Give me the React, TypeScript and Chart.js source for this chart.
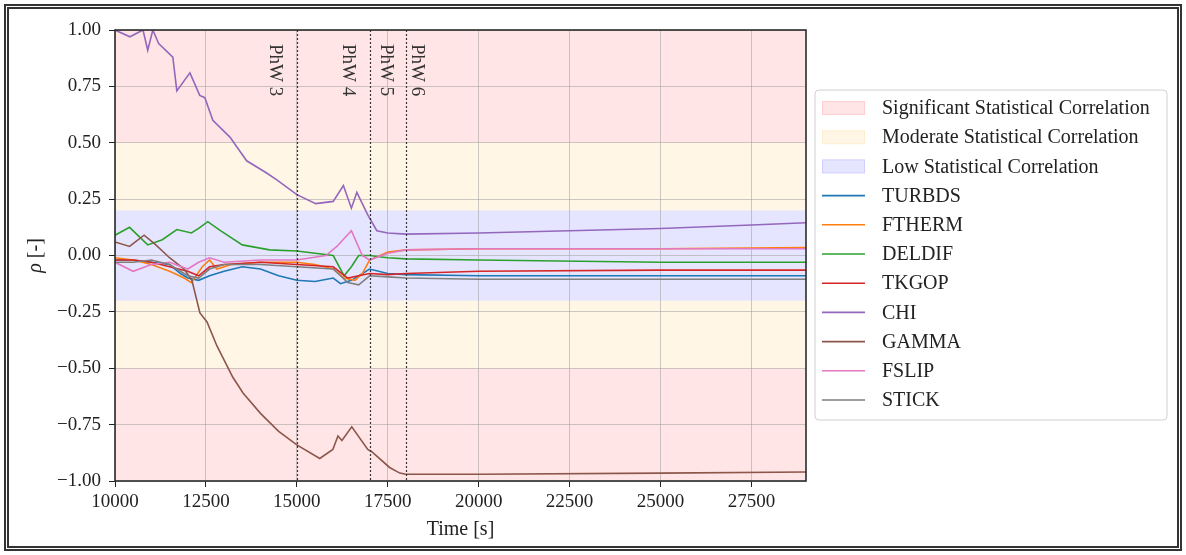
import React, { useEffect, useRef } from "react";
import { Chart, registerables } from "chart.js";

Chart.register(...registerables);

// ---------- data ----------
const X_MIN = 10000;
const X_MAX = 29000;
const xTickValues = [10000, 12500, 15000, 17500, 20000, 22500, 25000, 27500];
const yTickValues = [-1, -0.75, -0.5, -0.25, 0, 0.25, 0.5, 0.75, 1];

const bandLabels = [
  "Significant Statistical Correlation",
  "Moderate Statistical Correlation",
  "Low Statistical Correlation",
];
// [from, to] ranges per band category
const significantRanges = [[0.5, 1], [-1, -0.5]];
const moderateRanges = [[0.2, 0.5], [-0.5, -0.2]];
const lowRanges = [[-0.2, 0.2]];

const phwLineTimes = [15000, 17000, 18000];
const phwLabels = ["PhW 3", "PhW 4", "PhW 5", "PhW 6"];
const phwLabelTimes = [14400, 16400, 17450, 18300];

const seriesNames = ["TURBDS", "FTHERM", "DELDIF", "TKGOP", "CHI", "GAMMA", "FSLIP", "STICK"];

const tTurbds = [10000, 10500, 11000, 11500, 11800, 12000, 12300, 12600, 13000, 13500, 14000, 14500, 15000, 15500, 16000, 16200, 16500, 17000, 17500, 18000, 20000, 25000, 29000];
const rhoTurbds = [-0.02, -0.02, -0.03, -0.04, -0.08, -0.1, -0.11, -0.09, -0.07, -0.05, -0.06, -0.09, -0.11, -0.115, -0.1, -0.125, -0.11, -0.06, -0.08, -0.085, -0.09, -0.09, -0.09];

const tFtherm = [10000, 10500, 11000, 11500, 11900, 12100, 12400, 12600, 12800, 13200, 14000, 15000, 15500, 16000, 16300, 16600, 16800, 17000, 17500, 18000, 20000, 25000, 29000];
const rhoFtherm = [-0.01, -0.02, -0.04, -0.07, -0.1, -0.12, -0.05, -0.02, -0.06, -0.04, -0.03, -0.03, -0.04, -0.06, -0.1, -0.11, -0.08, -0.02, 0.015, 0.025, 0.03, 0.03, 0.035];

const tDeldif = [10000, 10400, 10900, 11300, 11700, 12100, 12300, 12550, 12900, 13500, 14250, 15000, 16000, 16300, 16500, 16700, 17000, 17500, 18000, 20000, 25000, 29000];
const rhoDeldif = [0.09, 0.125, 0.047, 0.07, 0.115, 0.1, 0.12, 0.15, 0.11, 0.047, 0.025, 0.02, 0.0, -0.09, -0.05, 0.0, 0.0, -0.01, -0.015, -0.02, -0.03, -0.03];

const tTkgop = [10000, 10500, 11000, 11500, 12000, 12300, 12600, 13000, 14000, 15000, 16000, 16400, 16700, 17000, 17500, 18000, 20000, 25000, 29000];
const rhoTkgop = [-0.02, -0.02, -0.03, -0.05, -0.07, -0.09, -0.05, -0.04, -0.03, -0.04, -0.05, -0.1, -0.09, -0.08, -0.085, -0.08, -0.07, -0.065, -0.065];

const tChi = [10000, 10410, 10770, 10900, 11040, 11200, 11590, 11700, 12060, 12330, 12470, 12690, 13160, 13620, 14170, 14450, 15000, 15520, 16000, 16280, 16500, 16650, 16950, 17200, 17500, 18000, 20000, 22500, 25000, 27500, 29000];
const rhoChi = [1.0, 0.97, 1.0, 0.91, 1.0, 0.94, 0.88, 0.73, 0.81, 0.71, 0.7, 0.6, 0.525, 0.42, 0.366, 0.335, 0.27, 0.23, 0.24, 0.31, 0.21, 0.28, 0.18, 0.11, 0.1, 0.095, 0.1, 0.11, 0.12, 0.135, 0.145];

const tGamma = [10000, 10400, 10800, 11100, 11500, 11900, 12115, 12335, 12530, 12800, 13240, 13520, 14000, 14500, 15000, 15630, 15990, 16130, 16240, 16510, 16950, 17060, 17550, 17830, 18000, 20000, 25000, 29000];
const rhoGamma = [0.06, 0.04, 0.09, 0.05, -0.01, -0.06, -0.11, -0.255, -0.295, -0.4, -0.54, -0.61, -0.7, -0.78, -0.84, -0.9, -0.86, -0.8, -0.82, -0.76, -0.86, -0.87, -0.94, -0.965, -0.97, -0.97, -0.965, -0.96];

const tFslip = [10000, 10500, 11000, 11500, 12000, 12300, 12600, 13000, 14000, 15000, 15800, 16100, 16500, 16800, 17000, 17500, 18000, 20000, 25000, 29000];
const rhoFslip = [-0.03, -0.07, -0.04, -0.03, -0.06, -0.03, -0.01, -0.03, -0.02, -0.02, 0.0, 0.04, 0.11, 0.0, -0.02, 0.01, 0.025, 0.03, 0.03, 0.03];

const tStick = [10000, 10500, 11000, 11500, 12000, 12300, 12600, 13000, 14000, 15000, 16000, 16400, 16700, 17000, 17500, 18000, 20000, 25000, 29000];
const rhoStick = [-0.03, -0.03, -0.02, -0.04, -0.09, -0.1, -0.06, -0.04, -0.04, -0.05, -0.06, -0.12, -0.13, -0.09, -0.095, -0.1, -0.105, -0.105, -0.105];

const seriesTimes = [tTurbds, tFtherm, tDeldif, tTkgop, tChi, tGamma, tFslip, tStick];
const seriesValues = [rhoTurbds, rhoFtherm, rhoDeldif, rhoTkgop, rhoChi, rhoGamma, rhoFslip, rhoStick];

// ---------- styles ----------
const W = 1186;
const H = 555;
const FONT = "'Liberation Serif', 'Times New Roman', serif";
const TEXT = "#222";
const seriesColors = ["#1f77b4", "#ff7f0e", "#2ca02c", "#d62728", "#9467bd", "#8c564b", "#e377c2", "#7f7f7f"];
const bandFill = ["rgba(255,0,0,0.1)", "rgba(255,165,0,0.1)", "rgba(0,0,255,0.1)"];
const bandRanges = [significantRanges, moderateRanges, lowRanges];

const fmtY = (v: number) => {
  const s = Math.abs(v).toFixed(2);
  return v < 0 ? "\u2212" + s : s;
};

const decorPlugin = {
  id: "decor",
  beforeDraw(chart: any) {
    const { ctx, chartArea: a, scales } = chart;
    const y = scales.y;
    ctx.save();
    bandRanges.forEach((ranges, bi) => {
      ranges.forEach(([from, to]) => {
        const y1 = y.getPixelForValue(to);
        const y2 = y.getPixelForValue(from);
        ctx.fillStyle = bandFill[bi];
        ctx.fillRect(a.left, y1, a.right - a.left, y2 - y1);
      });
    });
    ctx.restore();
  },
  afterDatasetsDraw(chart: any) {
    const { ctx, chartArea: a, scales } = chart;
    const x = scales.x;
    ctx.save();
    // vertical dotted lines
    ctx.strokeStyle = "#333";
    ctx.lineWidth = 1.2;
    ctx.setLineDash([2, 2]);
    phwLineTimes.forEach((t) => {
      const px = Math.round(x.getPixelForValue(t)) + 0.5;
      ctx.beginPath();
      ctx.moveTo(px, a.top);
      ctx.lineTo(px, a.bottom);
      ctx.stroke();
    });
    ctx.setLineDash([]);
    // labels
    ctx.fillStyle = "#333";
    ctx.font = `19px ${FONT}`;
    ctx.textAlign = "left";
    ctx.textBaseline = "middle";
    phwLabels.forEach((lab, i) => {
      const px = x.getPixelForValue(phwLabelTimes[i]);
      ctx.save();
      ctx.translate(px, a.top + 14);
      ctx.rotate(Math.PI / 2);
      ctx.fillText(lab, 0, 0);
      ctx.restore();
    });
    // frame
    ctx.strokeStyle = "#2b2b2b";
    ctx.lineWidth = 1.6;
    ctx.strokeRect(a.left, a.top, a.right - a.left, a.bottom - a.top);
    ctx.restore();
  },
  afterDraw(chart: any) {
    const { ctx, chartArea: a } = chart;
    ctx.save();
    ctx.fillStyle = TEXT;
    // x title
    ctx.font = `20px ${FONT}`;
    ctx.textAlign = "center";
    ctx.textBaseline = "middle";
    ctx.fillText("Time [s]", (a.left + a.right) / 2, 530);
    // y title
    ctx.save();
    ctx.translate(36, (a.top + a.bottom) / 2);
    ctx.rotate(-Math.PI / 2);
    ctx.font = `italic 20px ${FONT}`;
    const w1 = ctx.measureText("\u03c1").width;
    ctx.font = `20px ${FONT}`;
    const w2 = ctx.measureText(" [-]").width;
    const start = -(w1 + w2) / 2;
    ctx.textAlign = "left";
    ctx.font = `italic 20px ${FONT}`;
    ctx.fillText("\u03c1", start, 0);
    ctx.font = `20px ${FONT}`;
    ctx.fillText(" [-]", start + w1, 0);
    ctx.restore();

    // legend
    const lx = 815, ly = 90, lw = 352, lh = 330;
    ctx.beginPath();
    const r = 4;
    ctx.moveTo(lx + r, ly);
    ctx.arcTo(lx + lw, ly, lx + lw, ly + lh, r);
    ctx.arcTo(lx + lw, ly + lh, lx, ly + lh, r);
    ctx.arcTo(lx, ly + lh, lx, ly, r);
    ctx.arcTo(lx, ly, lx + lw, ly, r);
    ctx.closePath();
    ctx.fillStyle = "rgba(255,255,255,0.9)";
    ctx.fill();
    ctx.strokeStyle = "#d0d0d0";
    ctx.lineWidth = 1;
    ctx.stroke();

    const rowStart = 108;
    const rowStep = 29.2;
    const sx1 = 822, sx2 = 865, tx = 882;
    ctx.font = `20px ${FONT}`;
    ctx.textAlign = "left";
    ctx.textBaseline = "middle";
    let row = 0;
    bandLabels.forEach((lab, i) => {
      const cy = rowStart + row * rowStep;
      ctx.fillStyle = bandFill[i];
      ctx.fillRect(sx1, cy - 7, sx2 - sx1, 14);
      ctx.strokeStyle = bandFill[i];
      ctx.strokeRect(sx1 + 0.5, cy - 6.5, sx2 - sx1 - 1, 13);
      ctx.fillStyle = TEXT;
      ctx.fillText(lab, tx, cy + 1);
      row++;
    });
    seriesNames.forEach((name, i) => {
      const cy = rowStart + row * rowStep;
      ctx.strokeStyle = seriesColors[i];
      ctx.lineWidth = 1.6;
      ctx.beginPath();
      ctx.moveTo(sx1, cy);
      ctx.lineTo(sx2, cy);
      ctx.stroke();
      ctx.fillStyle = TEXT;
      ctx.fillText(name, tx, cy + 1);
      row++;
    });
    ctx.restore();
  },
};

export default function App() {
  const ref = useRef<HTMLCanvasElement | null>(null);

  useEffect(() => {
    if (!ref.current) return;
    const datasets = seriesNames.map((name, i) => ({
      label: name,
      data: seriesTimes[i].map((t, j) => ({ x: t, y: seriesValues[i][j] })),
      borderColor: seriesColors[i],
      backgroundColor: seriesColors[i],
      borderWidth: 1.6,
      pointRadius: 0,
      tension: 0,
      fill: false,
      order: seriesNames.length - i,
    }));

    const chart = new Chart(ref.current, {
      type: "line",
      data: { datasets },
      plugins: [decorPlugin],
      options: {
        responsive: false,
        animation: false,
        devicePixelRatio: 1,
        layout: { padding: { top: 30, right: W - 806, left: 0, bottom: 0 } },
        plugins: {
          legend: { display: false },
          tooltip: { enabled: false },
        },
        scales: {
          x: {
            type: "linear",
            min: X_MIN,
            max: X_MAX,
            afterBuildTicks: (s: any) => {
              s.ticks = xTickValues.map((v) => ({ value: v }));
            },
            afterFit: (s: any) => {
              s.height = 74;
            },
            ticks: {
              autoSkip: false,
              maxRotation: 0,
              padding: 4,
              color: TEXT,
              font: { family: FONT, size: 19 },
              callback: (v: any) => String(v),
            },
            grid: {
              color: "rgba(160,160,160,0.55)",
              lineWidth: 1,
              tickColor: "#222",
              tickLength: 6,
              drawTicks: true,
            },
            border: { display: false },
          },
          y: {
            type: "linear",
            min: -1,
            max: 1,
            afterBuildTicks: (s: any) => {
              s.ticks = yTickValues.map((v) => ({ value: v }));
            },
            afterFit: (s: any) => {
              s.width = 115;
            },
            ticks: {
              autoSkip: false,
              padding: 8,
              color: TEXT,
              font: { family: FONT, size: 19 },
              callback: (v: any) => fmtY(Number(v)),
            },
            grid: {
              color: "rgba(160,160,160,0.55)",
              lineWidth: 1,
              tickColor: "#222",
              tickLength: 6,
              drawTicks: true,
            },
            border: { display: false },
          },
        },
      },
    } as any);
    return () => chart.destroy();
  }, []);

  return (
    <div style={{ position: "fixed", left: 0, top: 0, width: W, height: H, background: "#fff" }}>
      <canvas ref={ref} width={W} height={H} style={{ position: "absolute", left: 0, top: 0, width: W, height: H }} />
      <div
        style={{
          position: "absolute",
          left: 4,
          top: 4,
          width: W - 8,
          height: H - 8,
          boxSizing: "border-box",
          border: "5px double #333",
          pointerEvents: "none",
        }}
      />
    </div>
  );
}
